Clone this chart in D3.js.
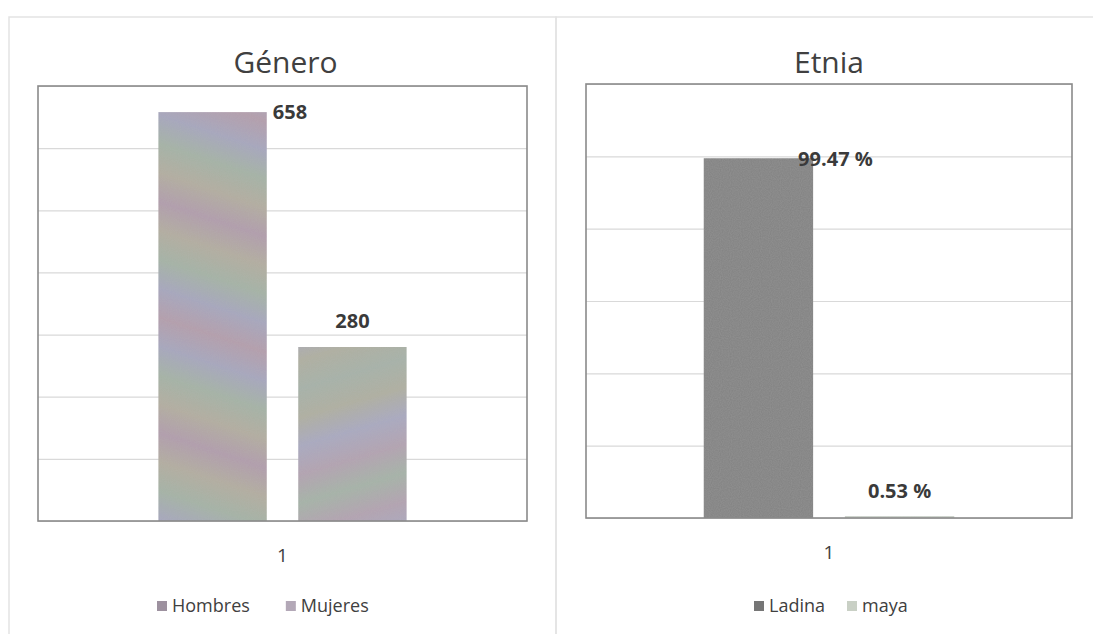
<!DOCTYPE html>
<html>
<head>
<meta charset="utf-8">
<script src="https://cdn.jsdelivr.net/npm/d3@7"></script>
<style>
  body { margin: 0; background: #fff; }
  svg { display: block; }
  text { font-family: "Open Sans", sans-serif; }
</style>
</head>
<body>
<div id="chart"></div>
<script>
// data
const category = ["1"];

const generoSeries = ["Hombres", "Mujeres"];
const generoValues = [658, 280];
const generoLabels = ["658", "280"];
const generoTicks = [0, 100, 200, 300, 400, 500, 600, 700];

const etniaSeries = ["Ladina", "maya"];
const etniaValues = [99.47, 0.53];
const etniaLabels = ["99.47 %", "0.53 %"];
const etniaTicks = [0, 20, 40, 60, 80, 100, 120];

const W = 1093, H = 634;

const svg = d3.select("#chart")
    .append("svg")
    .attr("width", W)
    .attr("height", H);

const defs = svg.append("defs");

// scanned bars show a rainbow moire, fake it with repeating gradients
function moire(id, stops, angle) {
    const g = defs.append("linearGradient")
        .attr("id", id)
        .attr("gradientUnits", "userSpaceOnUse")
        .attr("x1", 0).attr("y1", 0)
        .attr("x2", 0).attr("y2", 110)
        .attr("spreadMethod", "reflect")
        .attr("gradientTransform", `rotate(${angle})`);
    stops.forEach((c, i) => {
        g.append("stop")
            .attr("offset", i / (stops.length - 1))
            .attr("stop-color", c);
    });
}
moire("mHombres", ["#b39cab", "#a5a5bd", "#a3b2a4", "#b2ac9e", "#b09bab"], 18);
moire("mMujeres", ["#a4b2a6", "#b2a1b0", "#a8a8c0", "#aeae9f", "#a5b1a7"], -16);

const noise = defs.append("filter").attr("id", "grain")
    .attr("x", 0).attr("y", 0).attr("width", 1).attr("height", 1);
noise.append("feTurbulence")
    .attr("type", "fractalNoise")
    .attr("baseFrequency", 0.9)
    .attr("numOctaves", 1)
    .attr("result", "n");
noise.append("feColorMatrix")
    .attr("in", "n")
    .attr("type", "matrix")
    .attr("values", "0 0 0 0 0.5  0 0 0 0 0.5  0 0 0 0 0.5  0 0 0 0.25 0")
    .attr("result", "g");
noise.append("feComposite")
    .attr("in", "g").attr("in2", "SourceGraphic")
    .attr("operator", "atop");

function drawChart(cfg) {
    const panel = svg.append("g");

    // outer chart frame
    panel.append("rect")
        .attr("x", cfg.frame[0]).attr("y", cfg.frame[1])
        .attr("width", cfg.frame[2]).attr("height", cfg.frame[3])
        .attr("fill", "none")
        .attr("stroke", "#e3e3e3")
        .attr("stroke-width", 1.5);

    const m = cfg.plot;
    const w = m.right - m.left;
    const h = m.bottom - m.top;
    const g = panel.append("g")
        .attr("transform", `translate(${m.left},${m.top})`);

    const y = d3.scaleLinear()
        .domain([0, d3.max(cfg.ticks)])
        .range([h, 0]);

    const x0 = d3.scaleBand()
        .domain(category)
        .range([0, w])
        .paddingInner(0)
        .paddingOuter(cfg.outerPad);

    const x1 = d3.scaleBand()
        .domain(cfg.series)
        .range([0, x0.bandwidth()])
        .paddingInner(0.225);

    // gridlines
    g.append("g")
        .call(d3.axisLeft(y).tickValues(cfg.ticks).tickSize(-w).tickFormat(""))
        .call(a => a.select(".domain").remove())
        .call(a => a.selectAll("line").attr("stroke", "#d9d9d9").attr("stroke-width", 1.2));

    const bars = g.append("g")
        .attr("transform", `translate(${x0(category[0])},0)`);

    bars.selectAll("rect")
        .data(cfg.values)
        .join("rect")
        .attr("x", (d, i) => x1(cfg.series[i]))
        .attr("y", d => y(d))
        .attr("width", x1.bandwidth())
        .attr("height", d => h - y(d))
        .attr("fill", (d, i) => cfg.fills[i])
        .attr("filter", "url(#grain)");

    // data labels, placed the way they were nudged in the original
    bars.selectAll("text")
        .data(cfg.values)
        .join("text")
        .attr("x", (d, i) => {
            const o = cfg.labelPos[i];
            const bx = x1(cfg.series[i]);
            if (o.anchor === "start") return bx + x1.bandwidth() + o.dx;
            return bx + x1.bandwidth() / 2 + o.dx;
        })
        .attr("y", (d, i) => y(d) + cfg.labelPos[i].dy)
        .attr("dy", "0.35em")
        .attr("text-anchor", (d, i) => cfg.labelPos[i].anchor)
        .attr("font-size", 20)
        .attr("font-weight", "bold")
        .attr("fill", "#3a3a3a")
        .text((d, i) => cfg.labels[i]);

    // plot area border
    g.append("rect")
        .attr("width", w).attr("height", h)
        .attr("fill", "none")
        .attr("stroke", "#8a8a8a")
        .attr("stroke-width", 1.6);

    // category axis label
    g.append("g")
        .attr("transform", `translate(0,${h})`)
        .call(d3.axisBottom(x0).tickSize(0).tickPadding(28))
        .call(a => a.select(".domain").remove())
        .call(a => a.selectAll("text")
            .attr("font-size", 19)
            .attr("font-family", "Open Sans, sans-serif")
            .attr("fill", "#404040"));

    // title
    panel.append("text")
        .attr("x", (m.left + m.right) / 2 + cfg.titleDx)
        .attr("y", 62)
        .attr("dy", "0.35em")
        .attr("text-anchor", "middle")
        .attr("font-size", 30)
        .attr("fill", "#404040")
        .text(cfg.title);

    // legend
    const lg = panel.append("g")
        .attr("transform", `translate(${cfg.legendX},606)`);
    let lx = 0;
    cfg.series.forEach((s, i) => {
        const item = lg.append("g").attr("transform", `translate(${lx},0)`);
        item.append("rect")
            .attr("x", 0).attr("y", -5)
            .attr("width", 10).attr("height", 10)
            .attr("fill", cfg.legendFills[i]);
        const t = item.append("text")
            .attr("x", 15)
            .attr("dy", "0.35em")
            .attr("font-size", 18)
            .attr("fill", "#404040")
            .text(s);
        lx += 15 + t.node().getComputedTextLength() + cfg.legendGap;
    });
}

drawChart({
    title: "Género",
    titleDx: 3,
    frame: [9, 17, 547, 640],
    plot: { left: 38, right: 527, top: 86, bottom: 521 },
    outerPad: 0.485,
    series: generoSeries,
    values: generoValues,
    labels: generoLabels,
    ticks: generoTicks,
    fills: ["url(#mHombres)", "url(#mMujeres)"],
    legendFills: ["#9d919f", "#b3a8b7"],
    labelPos: [
        { anchor: "start", dx: 6, dy: 0 },
        { anchor: "middle", dx: 0, dy: -26 }
    ],
    legendX: 157,
    legendGap: 36
});

drawChart({
    title: "Etnia",
    titleDx: 0,
    frame: [556, 17, 560, 640],
    plot: { left: 586, right: 1072, top: 84, bottom: 518 },
    outerPad: 0.47,
    series: etniaSeries,
    values: etniaValues,
    labels: etniaLabels,
    ticks: etniaTicks,
    fills: ["#808080", "#ccd3cb"],
    legendFills: ["#767676", "#c9d0c5"],
    labelPos: [
        { anchor: "start", dx: -15, dy: 1 },
        { anchor: "middle", dx: 0, dy: -25 }
    ],
    legendX: 754,
    legendGap: 22
});
</script>
</body>
</html>
